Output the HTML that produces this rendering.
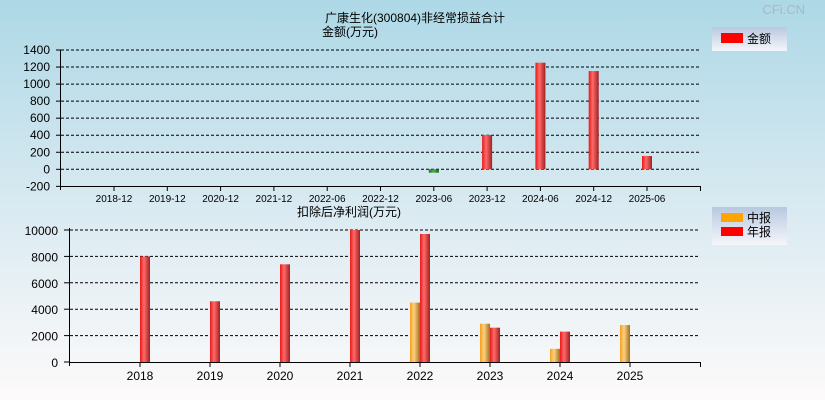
<!DOCTYPE html>
<html><head><meta charset="utf-8">
<style>
html,body{margin:0;padding:0;width:825px;height:400px;overflow:hidden}
html{background:#fdfafa}
body{background:linear-gradient(#add8e6,#dcebf2 55%,#fdfafa) no-repeat;background-size:825px 400px;font-family:"Liberation Sans","Noto Sans CJK SC",sans-serif}
svg{display:block}
svg text{font-family:"Liberation Sans","Noto Sans CJK SC",sans-serif}
</style></head><body>
<svg id="c" width="825" height="400">
<defs>
<linearGradient id="gr" x1="0" x2="1"><stop offset="0" stop-color="#e81818"/><stop offset="0.4" stop-color="#ff6a6a"/><stop offset="1" stop-color="#a02020"/></linearGradient>
<linearGradient id="go" x1="0" x2="1"><stop offset="0" stop-color="#f0a020"/><stop offset="0.4" stop-color="#ffd080"/><stop offset="1" stop-color="#a07020"/></linearGradient>
<linearGradient id="gg" x1="0" x2="1"><stop offset="0" stop-color="#1a7a1a"/><stop offset="0.5" stop-color="#50b050"/><stop offset="1" stop-color="#1a5a1a"/></linearGradient>
<linearGradient id="lg" x1="0" y1="0" x2="0" y2="1"><stop offset="0" stop-color="#b8c8e0"/><stop offset="1" stop-color="#f4f6fa"/></linearGradient>
</defs>
<text x="805" y="14" font-size="13" fill="#a8b8c4" text-anchor="end">CFi.CN</text>
<text x="325" y="22" font-size="12">广康生化(300804)非经常损益合计</text>
<text x="322" y="36" font-size="12">金额(万元)</text>
<text x="297" y="216" font-size="12">扣除后净利润(万元)</text>
<g>
<rect x="712" y="27" width="75" height="24" fill="url(#lg)"/>
<rect x="721" y="33" width="22" height="10" fill="#ff0000"/>
<text x="747" y="43" font-size="12">金额</text>
</g>
<g>
<rect x="712" y="207" width="75" height="38" fill="url(#lg)"/>
<rect x="721" y="213" width="22" height="9" fill="#ffa500"/>
<text x="747" y="222" font-size="12">中报</text>
<rect x="721" y="227" width="22" height="9" fill="#ff0000"/>
<text x="747" y="236" font-size="12">年报</text>
</g>
<g id="top"></g><g id="bot"></g>
</svg>
<script>
const topCats=["2018-12","2019-12","2020-12","2021-12","2022-06","2022-12","2023-06","2023-12","2024-06","2024-12","2025-06"];
const topVals=[0,0,0,0,0,0,-40,402,1251,1153,156];
const topTicks=[1400,1200,1000,800,600,400,200,0,-200];
const botCats=["2018","2019","2020","2021","2022","2023","2024","2025"];
const botHalf=[null,null,null,null,4500,2900,1000,2800];
const botAnnual=[8000,4600,7400,10000,9700,2600,2300,null];
const botTicks=[10000,8000,6000,4000,2000,0];
const NS="http://www.w3.org/2000/svg";
function mk(p,t,a,txt){const e=document.createElementNS(NS,t);for(const k in a)e.setAttribute(k,a[k]);if(txt!=null)e.textContent=txt;p.appendChild(e);return e;}
const T=document.getElementById('top');
const ty=v=>169.3-(v)*(119.3/1400);
const tx=i=>114+i*53.3;
topTicks.forEach(v=>{
 const y=ty(v);
 if(v>-200){const l=mk(T,'line',{x1:61,x2:700,y1:y,y2:y,stroke:'#000','stroke-dasharray':'3,2'});
 
 }
 mk(T,'line',{x1:56,x2:61,y1:y,y2:y,stroke:'#000'});
 const t=mk(T,'text',{x:50,y:y+4,'font-size':12,'text-anchor':'end'},v);
 
 
});
mk(T,'line',{x1:60.5,x2:60.5,y1:50,y2:190,stroke:'#000'});
mk(T,'line',{x1:60,x2:700,y1:186.5,y2:186.5,stroke:'#000'});
mk(T,'line',{x1:700.5,x2:700.5,y1:186,y2:191,stroke:'#000'});
topCats.forEach((c,i)=>{
 const x=tx(i);
 mk(T,'line',{x1:x,x2:x,y1:186,y2:191,stroke:'#000'});
 const t=mk(T,'text',{x:x,y:202,'font-size':10,'text-anchor':'middle'},c);
 
 
 const v=topVals[i];
 if(v){const y0=ty(0),y1=ty(v);
  const r=mk(T,'rect',{x:x-5,y:Math.min(y0,y1),width:10,height:Math.max(1,Math.abs(y1-y0)),fill:v<0?'url(#gg)':'url(#gr)'});
  
  }
});
const B=document.getElementById('bot');
const by=v=>362-v*(132/10000);
const bx=i=>140+i*70;
botTicks.forEach(v=>{
 const y=by(v);
 if(v>0){const l=mk(B,'line',{x1:70,x2:700,y1:y,y2:y,stroke:'#000','stroke-dasharray':'3,2'});
 
 }
 mk(B,'line',{x1:64,x2:69,y1:y,y2:y,stroke:'#000'});
 const t=mk(B,'text',{x:58,y:y+5,'font-size':12,'text-anchor':'end'},v);
 
 
});
mk(B,'line',{x1:69.5,x2:69.5,y1:228,y2:366,stroke:'#000'});
mk(B,'line',{x1:69,x2:700,y1:362.5,y2:362.5,stroke:'#000'});
mk(B,'line',{x1:700.5,x2:700.5,y1:362,y2:367,stroke:'#000'});
botCats.forEach((c,i)=>{
 const x=bx(i);
 mk(B,'line',{x1:x,x2:x,y1:362,y2:367,stroke:'#000'});
 const t=mk(B,'text',{x:x,y:380,'font-size':12,'text-anchor':'middle'},c);
 
 
 if(botHalf[i]!=null){const r=mk(B,'rect',{x:x-10,y:by(botHalf[i]),width:10,height:362-by(botHalf[i]),fill:'url(#go)'});
  
  }
 if(botAnnual[i]!=null){const r=mk(B,'rect',{x:x,y:by(botAnnual[i]),width:10,height:362-by(botAnnual[i]),fill:'url(#gr)'});
  
  }
});
</script>
</body></html>
